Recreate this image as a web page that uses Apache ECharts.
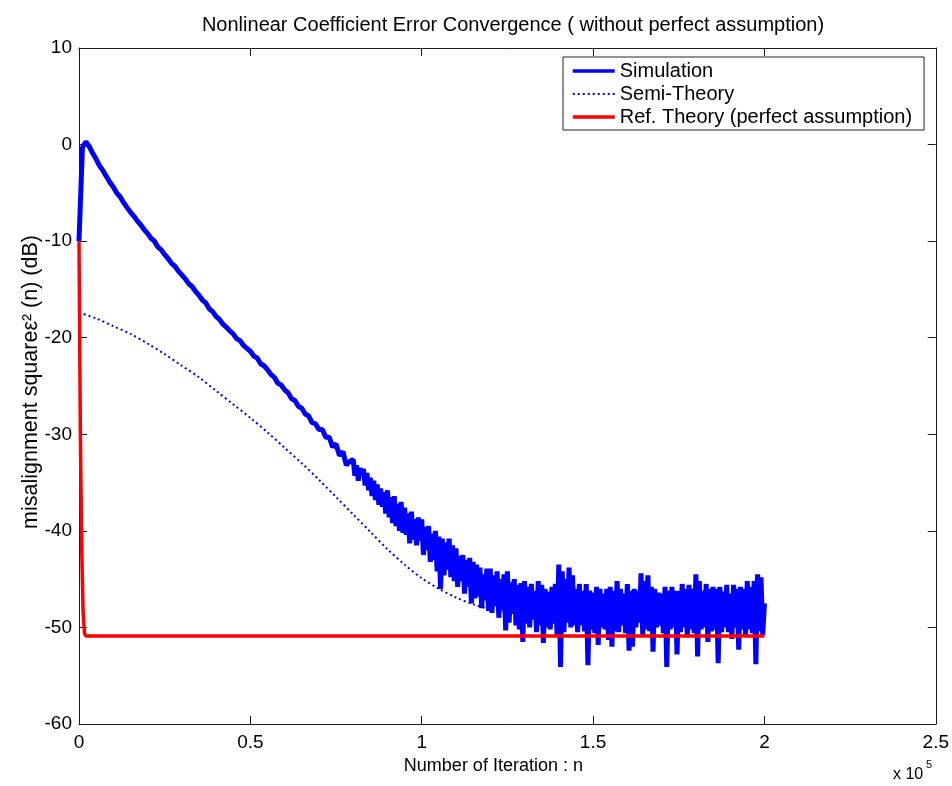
<!DOCTYPE html>
<html>
<head>
<meta charset="utf-8">
<script src="https://cdn.jsdelivr.net/npm/echarts@6/dist/echarts.min.js"></script>
<style>
html,body{margin:0;padding:0;background:#fff;}
#chart{width:952px;height:786px;}
</style>
</head>
<body>
<div id="chart"></div>
<script>
// ---- data ----
const titleText = 'Nonlinear Coefficient Error Convergence ( without perfect assumption)';
const seriesNames = ['Simulation', 'Semi-Theory', 'Ref. Theory (perfect assumption)'];
const xTickValues = [0, 50000, 100000, 150000, 200000, 250000];
const xTickLabels = ['0', '0.5', '1', '1.5', '2', '2.5'];
const yTickLabels = [-60, -50, -40, -30, -20, -10, 0, 10];

// Simulation, first part: one sample every 1000 iterations, n = 0 .. 79000
const simHeadStart = 0;
const simHeadStep = 1000;
const simHeadDb = [
  -10.0, -0.3, 0.3, -0.2, -0.9, -1.5, -2.2, -2.7, -3.3, -3.9,
  -4.4, -5.0, -5.4, -6.0, -6.5, -7.0, -7.4, -7.9, -8.3, -8.8,
  -9.2, -9.7, -10.0, -10.6, -10.9, -11.4, -11.8, -12.3, -12.6, -13.1,
  -13.5, -13.9, -14.4, -14.7, -15.2, -15.6, -16.1, -16.4, -17.0, -17.3,
  -17.8, -18.1, -18.6, -18.9, -19.3, -19.6, -20.1, -20.3, -20.8, -21.1,
  -21.4, -21.9, -22.1, -22.7, -22.9, -23.3, -23.8, -24.1, -24.7, -24.9,
  -25.4, -25.7, -26.3, -26.5, -27.1, -27.3, -27.9, -28.1, -28.8, -28.9,
  -29.5, -29.5, -30.3, -30.3, -31.3, -31.0, -32.2, -31.8, -33.2, -32.8
];
// Simulation, noisy part: one sample every 500 iterations, n = 80000 .. 200000
const simTailStart = 80000;
const simTailStep = 500;
const simTailDb = [
  -32.6, -34.3, -33.2, -34.8, -33.5, -34.2, -33.6, -35.3, -34.0, -35.8,
  -34.5, -36.4, -34.8, -36.8, -35.2, -37.3, -35.6, -37.5, -36.0, -38.2,
  -35.8, -38.6, -36.5, -39.2, -36.4, -39.5, -37.2, -40.0, -37.0, -40.2,
  -37.6, -40.4, -38.2, -41.3, -38.0, -40.9, -38.8, -41.5, -38.6, -41.0,
  -38.8, -42.5, -39.6, -42.0, -39.5, -43.2, -40.3, -43.0, -40.0, -44.2,
  -40.6, -46.0, -40.8, -44.6, -41.2, -44.0, -40.8, -44.8, -41.5, -45.2,
  -41.8, -45.8, -42.6, -45.2, -42.5, -46.5, -43.0, -45.8, -42.8, -47.5,
  -43.2, -47.0, -43.5, -46.8, -43.8, -48.0, -44.5, -47.2, -43.9, -48.3,
  -43.9, -48.5, -44.6, -47.8, -44.2, -49.0, -45.0, -48.2, -44.5, -50.3,
  -44.2, -49.5, -45.3, -48.6, -45.0, -49.8, -45.6, -50.2, -45.4, -51.5,
  -45.2, -49.6, -45.8, -50.0, -45.5, -49.2, -46.2, -50.5, -45.2, -49.8,
  -45.6, -51.6, -46.0, -50.0, -46.3, -50.2, -45.8, -49.6, -45.5, -50.8,
  -43.5, -54.1, -44.2, -50.5, -45.0, -49.5, -43.8, -50.0, -44.6, -49.8,
  -46.0, -50.5, -45.5, -49.8, -46.2, -50.4, -45.5, -53.9, -46.2, -50.2,
  -46.4, -50.6, -45.8, -51.8, -46.0, -50.0, -46.5, -50.2, -46.0, -51.3,
  -45.8, -52.0, -46.2, -50.4, -45.2, -50.5, -46.0, -49.8, -46.5, -50.6,
  -45.5, -52.4, -46.2, -52.0, -46.0, -50.0, -46.2, -49.5, -44.4, -50.8,
  -45.2, -50.2, -44.6, -50.4, -45.8, -52.5, -46.0, -50.0, -46.4, -49.8,
  -46.5, -50.6, -45.8, -54.1, -46.2, -50.2, -45.8, -50.0, -46.2, -52.8,
  -46.2, -50.5, -45.5, -50.0, -46.0, -51.0, -45.6, -50.2, -46.0, -50.6,
  -44.5, -53.0, -45.2, -50.2, -46.2, -50.0, -45.5, -51.5, -46.0, -50.4,
  -45.8, -50.2, -46.0, -53.7, -45.8, -50.5, -46.3, -50.0, -45.6, -50.5,
  -46.5, -51.2, -45.6, -50.0, -46.0, -52.3, -45.8, -50.2, -46.0, -50.8,
  -45.2, -50.2, -45.8, -50.6, -45.2, -53.8, -44.5, -50.4, -44.8, -50.8,
  -47.5
];

// Semi-theory (dotted curve)
const semiN = [0, 5000, 10000, 15000, 20000, 25000, 30000, 35000, 40000, 45000,
  50000, 55000, 60000, 65000, 70000, 75000, 80000, 85000, 90000, 95000,
  100000, 105000, 110000, 115000, 120000, 125000, 130000, 140000, 160000, 200000];
const semiDb = [-17.4, -18.0, -18.8, -19.6, -20.6, -21.7, -22.9, -24.1, -25.5, -26.9,
  -28.3, -29.8, -31.4, -33.0, -34.7, -36.5, -38.3, -40.1, -41.9, -43.5,
  -44.9, -46.0, -46.9, -47.6, -48.1, -48.4, -48.6, -48.8, -48.9, -48.9];

// Reference theory (perfect assumption)
const refN = [0, 400, 800, 1200, 1600, 2000, 200000];
const refDb = [-10.0, -30.0, -42.0, -48.5, -50.6, -50.9, -50.9];

// ---- build series data ----
const simData = simHeadDb.map((v, i) => [simHeadStart + i * simHeadStep, v])
  .concat(simTailDb.map((v, i) => [simTailStart + i * simTailStep, v]));
const semiData = semiN.map((n, i) => [n, semiDb[i]]);
const refData = refN.map((n, i) => [n, refDb[i]]);

const FONT = '"Liberation Sans", Arial, Helvetica, sans-serif';
const AX = '#1a1a1a';
const BLUE = '#0000ff';
const RED = '#ff0000';

const chart = echarts.init(document.getElementById('chart'), null, {renderer: 'canvas'});
const xLabelMap = {};
xTickValues.forEach((v, i) => { xLabelMap[v] = xTickLabels[i]; });

const frameAxis = {
  axisLine: {show: true, onZero: false, lineStyle: {color: AX, width: 1}},
  axisTick: {show: true, inside: true, length: 8, lineStyle: {color: AX}},
  splitLine: {show: false}
};

const option = {
  backgroundColor: '#ffffff',
  animation: false,
  textStyle: {fontFamily: FONT},
  title: {
    text: titleText,
    left: 508,
    textAlign: 'center',
    top: 10,
    textStyle: {fontSize: 20, fontWeight: 'normal', color: '#000', fontFamily: FONT}
  },
  legend: {
    orient: 'vertical',
    left: 563,
    top: 57,
    padding: [4, 12, 3, 8],
    itemGap: 3,
    itemWidth: 42,
    itemHeight: 18,
    backgroundColor: '#ffffff',
    borderColor: '#222',
    borderWidth: 1,
    borderRadius: 0,
    itemStyle: {opacity: 0},
    textStyle: {fontSize: 20, color: '#000', fontFamily: FONT},
    data: [
      {name: seriesNames[0], lineStyle: {width: 3.5, color: BLUE}},
      {name: seriesNames[1], lineStyle: {width: 2, color: BLUE, type: [2, 3]}},
      {name: seriesNames[2], lineStyle: {width: 3.5, color: RED}}
    ]
  },
  grid: {left: 79, right: 15, top: 48, bottom: 62, containLabel: false},
  xAxis: [Object.assign({
    type: 'value',
    min: 0, max: 250000, interval: 50000,
    name: 'Number of Iteration : n',
    nameLocation: 'middle',
    nameGap: 33,
    nameMoveOverlap: false,
    nameTextStyle: {fontSize: 18, color: '#000', fontFamily: FONT, padding: [0, 28, 0, 0]},
    axisLabel: {
      fontSize: 19, color: '#000', margin: 9, fontFamily: FONT,
      formatter: v => (xLabelMap[v] !== undefined ? xLabelMap[v] : '')
    }
  }, frameAxis), Object.assign({
    type: 'value', position: 'top',
    min: 0, max: 250000, interval: 50000,
    axisLabel: {show: false}
  }, frameAxis)],
  yAxis: [Object.assign({
    type: 'value',
    min: yTickLabels[0], max: yTickLabels[yTickLabels.length - 1], interval: 10,
    name: 'misalignment squareε² (n) (dB)',
    nameLocation: 'middle',
    nameGap: 37,
    nameMoveOverlap: false,
    nameRotate: 90,
    nameTextStyle: {fontSize: 21.5, color: '#000', fontFamily: FONT, padding: [0, 0, 0, 8]},
    axisLabel: {fontSize: 19, color: '#000', margin: 7, fontFamily: FONT}
  }, frameAxis), Object.assign({
    type: 'value', position: 'right',
    min: -60, max: 10, interval: 10,
    axisLabel: {show: false}
  }, frameAxis)],
  graphic: [
    {type: 'text', left: 893, top: 767, style: {text: 'x 10', fontSize: 16, fill: '#000', fontFamily: FONT}},
    {type: 'text', left: 926, top: 759, style: {text: '5', fontSize: 11, fill: '#000', fontFamily: FONT}}
  ],
  series: [
    {
      name: seriesNames[0], type: 'line', data: simData,
      xAxisIndex: 0, yAxisIndex: 0,
      symbol: 'none', showSymbol: false, sampling: null,
      lineStyle: {color: BLUE, width: 5, join: 'bevel'},
      itemStyle: {color: BLUE},
      z: 2
    },
    {
      name: seriesNames[1], type: 'line', data: semiData,
      xAxisIndex: 0, yAxisIndex: 0,
      symbol: 'none', showSymbol: false, smooth: 0.3,
      lineStyle: {color: BLUE, width: 2, type: [2, 3]},
      itemStyle: {color: BLUE},
      z: 3
    },
    {
      name: seriesNames[2], type: 'line', data: refData,
      xAxisIndex: 0, yAxisIndex: 0,
      symbol: 'none', showSymbol: false,
      lineStyle: {color: RED, width: 3.5},
      itemStyle: {color: RED},
      z: 4
    }
  ]
};
chart.setOption(option);
</script>
</body>
</html>
